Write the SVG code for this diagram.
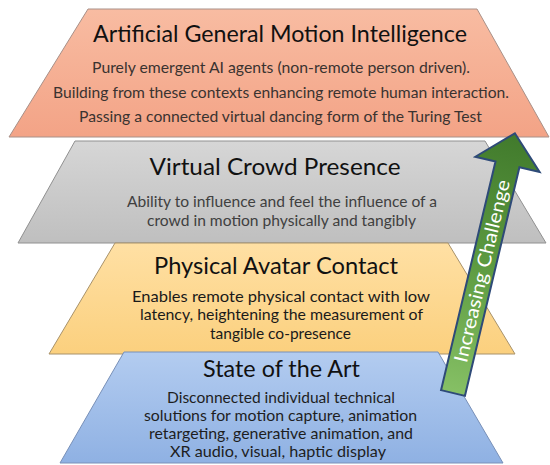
<svg xmlns="http://www.w3.org/2000/svg" width="550" height="465" viewBox="0 0 550 465">
<style>
  .title { font-family: Lato, "Open Sans", "Liberation Sans", sans-serif; font-size: 24px; fill: #111; text-anchor: middle; }
  .body { font-family: Lato, "Open Sans", "Liberation Sans", sans-serif; font-size: 15px; text-anchor: middle; }
  .arrowtext { font-family: Lato, "Open Sans", "Liberation Sans", sans-serif; font-size: 19px; fill: #fff; text-anchor: middle; }
  .tier { stroke-width: 1; }
</style>
<defs>
  <linearGradient id="gOrange" x1="0" y1="0" x2="0" y2="1">
    <stop offset="0" stop-color="#f8bca2"/>
    <stop offset="1" stop-color="#f3a386"/>
  </linearGradient>
  <linearGradient id="gGray" x1="0" y1="0" x2="0" y2="1">
    <stop offset="0" stop-color="#d6d6d6"/>
    <stop offset="1" stop-color="#bfbfbf"/>
  </linearGradient>
  <linearGradient id="gYellow" x1="0" y1="0" x2="0" y2="1">
    <stop offset="0" stop-color="#ffe0a4"/>
    <stop offset="1" stop-color="#fbd07e"/>
  </linearGradient>
  <linearGradient id="gBlue" x1="0" y1="0" x2="0" y2="1">
    <stop offset="0" stop-color="#b3ccf0"/>
    <stop offset="1" stop-color="#8fb1e3"/>
  </linearGradient>
  <linearGradient id="gArrow" x1="0" y1="0" x2="0" y2="1">
    <stop offset="0" stop-color="#417a2c"/>
    <stop offset="0.5" stop-color="#5c9a40"/>
    <stop offset="1" stop-color="#86c065"/>
  </linearGradient>
</defs>

<g id="tier-agmi">
  <polygon class="tier" points="88,9 477,9 549,137 9,137" fill="url(#gOrange)" stroke="#a89088"/>
  <text class="title" x="280" y="42" textLength="374" lengthAdjust="spacingAndGlyphs">Artificial General Motion Intelligence</text>
  <text class="body" fill="#3a3330" x="281" y="73" textLength="378" lengthAdjust="spacingAndGlyphs">Purely emergent AI agents (non-remote person driven).</text>
  <text class="body" fill="#3a3330" x="281" y="97.5" textLength="456" lengthAdjust="spacingAndGlyphs">Building from these contexts enhancing remote human interaction.</text>
  <text class="body" fill="#3a3330" x="280.5" y="122" textLength="403" lengthAdjust="spacingAndGlyphs">Passing a connected virtual dancing form of the Turing Test</text>
</g>

<g id="tier-crowd">
  <polygon class="tier" points="75,141 485,141 546,243 18,243" fill="url(#gGray)" stroke="#909090"/>
  <text class="title" x="275" y="175" textLength="251" lengthAdjust="spacingAndGlyphs">Virtual Crowd Presence</text>
  <text class="body" fill="#404040" x="282" y="207" textLength="310" lengthAdjust="spacingAndGlyphs">Ability to influence and feel the influence of a</text>
  <text class="body" fill="#404040" x="281.5" y="225.5" textLength="269" lengthAdjust="spacingAndGlyphs">crowd in motion physically and tangibly</text>
</g>

<g id="tier-contact">
  <polygon class="tier" points="115,243 448,243 515,354 49,354" fill="url(#gYellow)" stroke="#a8926a"/>
  <text class="title" x="276" y="274" textLength="244" lengthAdjust="spacingAndGlyphs">Physical Avatar Contact</text>
  <text class="body" fill="#1a1a1a" x="281" y="302" textLength="298" lengthAdjust="spacingAndGlyphs">Enables remote physical contact with low</text>
  <text class="body" fill="#1a1a1a" x="281.5" y="320" textLength="283" lengthAdjust="spacingAndGlyphs">latency, heightening the measurement of</text>
  <text class="body" fill="#1a1a1a" x="280.5" y="338.5" textLength="141" lengthAdjust="spacingAndGlyphs">tangible co-presence</text>
</g>

<g id="tier-sota">
  <polygon class="tier" points="124,352 438,352 503,463 60,463" fill="url(#gBlue)" stroke="#7890b8"/>
  <text class="title" x="281.5" y="377" textLength="157" lengthAdjust="spacingAndGlyphs">State of the Art</text>
  <text class="body" fill="#1e1e1e" x="281" y="403" textLength="228" lengthAdjust="spacingAndGlyphs">Disconnected individual technical</text>
  <text class="body" fill="#1e1e1e" x="280.5" y="420.5" textLength="273" lengthAdjust="spacingAndGlyphs">solutions for motion capture, animation</text>
  <text class="body" fill="#1e1e1e" x="281" y="438.5" textLength="264" lengthAdjust="spacingAndGlyphs">retargeting, generative animation, and</text>
  <text class="body" fill="#1e1e1e" x="278" y="457" textLength="216" lengthAdjust="spacingAndGlyphs">XR audio, visual, haptic display</text>
</g>

<g id="connectors">
  <g id="arrow-challenge" transform="translate(453,393) rotate(13.4)">
    <path d="M -12.3,0 L 12.3,0 L 12.3,-235 L 33,-235 L 0,-267 L -33,-235 L -12.3,-235 Z" fill="url(#gArrow)" stroke="#2e4a78" stroke-width="2" stroke-linejoin="miter"/>
    <text class="arrowtext" transform="rotate(-90)" x="125.5" y="6.5" textLength="187" lengthAdjust="spacingAndGlyphs">Increasing Challenge</text>
  </g>
</g>
</svg>
